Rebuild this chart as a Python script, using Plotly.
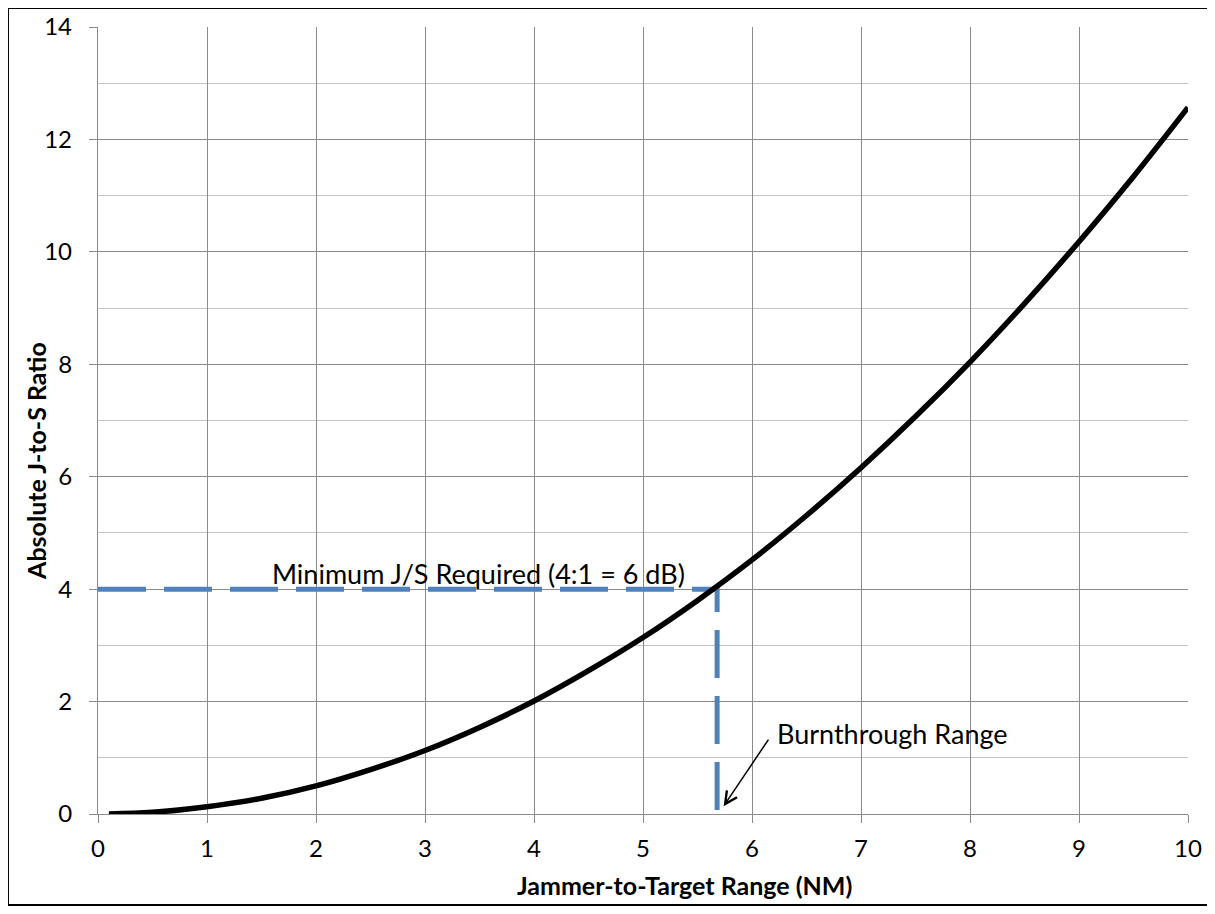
import plotly.graph_objects as go

# jammer-to-target range (NM) and absolute J/S ratio
range_nm = [0.1, 0.5, 1.0, 1.5, 2.0, 2.5, 3.0, 3.5, 4.0, 4.5, 5.0,
            5.5, 6.0, 6.5, 7.0, 7.5, 8.0, 8.5, 9.0, 9.5, 10.0]
js_ratio = [0.0, 0.03, 0.13, 0.28, 0.5, 0.79, 1.13, 1.54, 2.01, 2.55, 3.14,
            3.80, 4.52, 5.31, 6.16, 7.07, 8.04, 9.08, 10.18, 11.34, 12.57]

# minimum J/S requirement and burnthrough range
burn_x = [0.0, 5.68, 5.68]
burn_y = [4.0, 4.0, 0.0]

x_ticks = [0, 1, 2, 3, 4, 5, 6, 7, 8, 9, 10]
y_ticks = [0, 2, 4, 6, 8, 10, 12, 14]

FONT = "Lato"
GRID = "#8a8a8a"
MINOR = "#c4c4c4"

fig = go.Figure()

fig.add_trace(go.Scatter(
    x=burn_x, y=burn_y, mode="lines",
    line=dict(color="#4f81bd", width=5, dash="48px,18px"),
    showlegend=False, hoverinfo="skip",
))
fig.add_trace(go.Scatter(
    x=range_nm, y=js_ratio, mode="lines",
    line=dict(color="black", width=5.5, shape="spline"),
    showlegend=False,
))

fig.add_annotation(
    x=3.49, y=4.27, xref="x", yref="y", xanchor="center", yanchor="middle",
    text="Minimum J/S Required (4:1 = 6 dB)", showarrow=False,
    font=dict(family=FONT, size=27, color="black"),
)
fig.add_annotation(
    x=7.29, y=1.44, xref="x", yref="y", xanchor="center", yanchor="middle",
    text="Burnthrough Range", showarrow=False,
    font=dict(family=FONT, size=27, color="black"),
)
fig.add_annotation(
    x=5.74, y=0.14, ax=6.16, ay=1.35, xref="x", yref="y", axref="x", ayref="y",
    text="", showarrow=True, arrowhead=5, arrowsize=1.6, arrowwidth=1.5,
    arrowcolor="black",
)

# axis titles
fig.add_annotation(
    x=0.538, y=-0.09, xref="paper", yref="paper", xanchor="center", yanchor="middle",
    text="<b>Jammer-to-Target Range (NM)</b>", showarrow=False,
    font=dict(family=FONT, size=25, color="black"),
)
fig.add_annotation(
    x=-0.057, y=0.4485, xref="paper", yref="paper", xanchor="center", yanchor="middle",
    textangle=-90,
    text="<b>Absolute J-to-S Ratio</b>", showarrow=False,
    font=dict(family=FONT, size=25, color="black"),
)

# outer chart border
fig.add_shape(
    type="rect", xref="paper", yref="paper",
    x0=-0.0826, x1=1.0229, y0=-0.1156, y1=1.0241,
    line=dict(color="black", width=2),
)

fig.update_xaxes(
    range=[0, 10], tickmode="array", tickvals=x_ticks,
    showgrid=True, gridcolor=GRID, gridwidth=1.3,
    showline=True, linecolor=GRID, linewidth=1.3,
    ticks="outside", ticklen=8, tickcolor=GRID, tickwidth=1.3,
    tickfont=dict(family=FONT, size=24, color="black"),
    ticklabelstandoff=5, automargin=False,
    zeroline=False,
)
fig.update_yaxes(
    range=[0, 14], tickmode="array", tickvals=y_ticks,
    showgrid=True, gridcolor=GRID, gridwidth=1.3,
    minor=dict(dtick=1, showgrid=True, gridcolor=MINOR, gridwidth=1.3),
    showline=True, linecolor=GRID, linewidth=1.3,
    ticks="outside", ticklen=8, tickcolor=GRID, tickwidth=1.3,
    tickfont=dict(family=FONT, size=24, color="black"),
    ticklabelstandoff=12, automargin=False,
    zeroline=False,
)

fig.update_layout(
    width=1207, height=898,
    margin=dict(l=90, r=27, t=19, b=92),
    plot_bgcolor="white", paper_bgcolor="white",
    font=dict(family=FONT),
)

fig.write_html("out.html")
